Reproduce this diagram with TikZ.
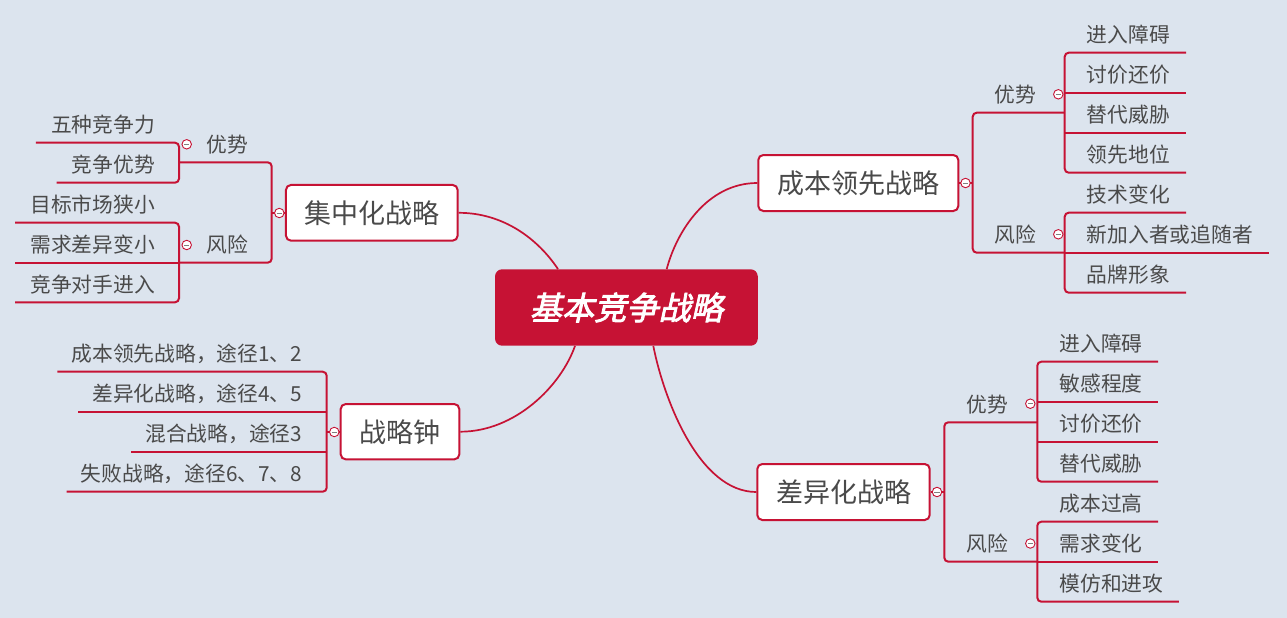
\documentclass[tikz,border=0pt]{standalone}
\usepackage{fontspec}
\setmainfont{Noto Sans CJK SC}
\newfontfamily\centralfont[FakeBold=2.5,FakeSlant=0.22]{Noto Sans CJK SC}
\definecolor{mred}{RGB}{198,18,52}
\definecolor{txt}{RGB}{74,74,74}
\definecolor{bgc}{RGB}{220,228,238}
\pgfdeclarelayer{bg}
\pgfdeclarelayer{lines}
\pgfsetlayers{bg,lines,main}
\begin{document}
\begin{tikzpicture}[x=1pt,y=-1pt,
  br/.style={draw=mred, line width=2pt},
  rc/.style={rounded corners=4pt},
  curve/.style={draw=mred, line width=1.7pt},
  mainbox/.style={draw=mred, line width=2pt, fill=white, rounded corners=5pt,
    minimum height=56pt, inner sep=0pt, text=txt, font=\fontsize{27}{30}\selectfont},
  leafbase/.style={inner sep=0pt, minimum height=36pt, text height=18.3pt, text depth=2.5pt,
    text=txt, font=\fontsize{20.75}{24}\selectfont},
  leafR/.style={leafbase, anchor=south west, execute at begin node={\kern22pt}, execute at end node={\kern16pt}},
  leafD/.style={leafbase, anchor=south west, execute at begin node={\kern22pt}, execute at end node={\kern15.5pt}},
  leafL/.style={leafbase, anchor=south east, execute at begin node={\kern15pt}, execute at end node={\kern24pt}},
  leafK/.style={leafbase, anchor=south east, execute at begin node={\kern14pt}, execute at end node={\kern24.4pt}},
  subR/.style={leafbase, anchor=south west, execute at begin node={\kern21.5pt}},
  subD/.style={leafbase, anchor=south west, execute at begin node={\kern22pt}},
  subL/.style={leafbase, anchor=south east, execute at end node={\kern23.4pt}},
  minus/.style={circle, draw=mred, line width=0.9pt, fill=white, minimum size=9.5pt, inner sep=0pt,
    path picture={\draw[line width=0.8pt, draw=gray] ([xshift=-2.6pt]path picture bounding box.center) -- ([xshift=2.6pt]path picture bounding box.center);}}
]
\begin{pgfonlayer}{bg}
  \fill[bgc] (0,0) rectangle (1287,618);
\end{pgfonlayer}
\useasboundingbox (0,0) rectangle (1287,618);

% central and main topics
\node[fill=mred, rounded corners=7pt, minimum width=262.7pt, minimum height=76.4pt, inner sep=0pt,
  text=white, font={\centralfont\fontsize{32.2}{36}\selectfont}] (central) at (626.4,307.5) {基本竞争战略};
\node[mainbox, minimum width=200pt] (cost) at (858.3,183) {成本领先战略};
\node[mainbox, minimum width=172.4pt] (diff) at (843.5,492) {差异化战略};
\node[mainbox, minimum width=171.7pt, minimum height=55.7pt] (focus) at (371.8,212.8) {集中化战略};
\node[mainbox, minimum width=118.6pt, minimum height=55.3pt] (clock) at (400,431.7) {战略钟};

% cost leadership branch
\node[subR] (cadv) at (972.7,112.7) {优势};
\node[leafR] (ca1) at (1064.7,52.7) {进入障碍};
\node[leafR] (ca2) at (1064.7,92.7) {讨价还价};
\node[leafR] (ca3) at (1064.7,132.7) {替代威胁};
\node[leafR] (ca4) at (1064.7,172.7) {领先地位};
\node[subR] (crisk) at (972.7,252.7) {风险};
\node[leafR] (cr1) at (1064.7,212.7) {技术变化};
\node[leafR] (cr2) at (1064.7,252.7) {新加入者或追随者};
\node[leafR] (cr3) at (1064.7,292.7) {品牌形象};

% differentiation branch
\node[subD] (dadv) at (944.3,422.3) {优势};
\node[leafD] (da1) at (1037.3,361.7) {进入障碍};
\node[leafD] (da2) at (1037.3,401.7) {敏感程度};
\node[leafD] (da3) at (1037.3,441.7) {讨价还价};
\node[leafD] (da4) at (1037.3,481.7) {替代威胁};
\node[subD] (drisk) at (944.3,561.7) {风险};
\node[leafD] (dr1) at (1037.3,521.7) {成本过高};
\node[leafD] (dr2) at (1037.3,561.7) {需求变化};
\node[leafD] (dr3) at (1037.3,601.7) {模仿和进攻};

% focus branch
\node[subL] (fadv) at (271.7,162.3) {优势};
\node[leafL] (fa1) at (179,142.7) {五种竞争力};
\node[leafL] (fa2) at (179,182.7) {竞争优势};
\node[subL] (frisk) at (271.7,262.7) {风险};
\node[leafL] (fr1) at (179,222.7) {目标市场狭小};
\node[leafL] (fr2) at (179,262.7) {需求差异变小};
\node[leafL] (fr3) at (179,302.3) {竞争对手进入};

% strategy clock branch
\node[leafK] (k1) at (326.7,371.7) {成本领先战略，途径1、2};
\node[leafK] (k2) at (326.7,411.7) {差异化战略，途径4、5};
\node[leafK] (k3) at (326.7,451.7) {混合战略，途径3};
\node[leafK] (k4) at (326.7,491.7) {失败战略，途径6、7、8};

\begin{pgfonlayer}{lines}
  % curves from central topic
  \draw[curve] ([xshift=40.3pt]central.north) .. controls +(10,-38) and +(-50,0) .. (cost.west);
  \draw[curve] ([xshift=-68.4pt]central.north) .. controls +(-20,-30) and +(45,0) .. (focus.east);
  \draw[curve] ([xshift=-51.4pt]central.south) .. controls +(-14,40) and +(55,0) .. (clock.east);
  \draw[curve] ([xshift=26.9pt]central.south) .. controls +(10.7,54) and +(-57,0) .. (diff.west);

  % cost
  \draw[br] (cost.east) -- (cost.east -| cadv.south west);
  \draw[br, rc] (cadv.south west -| ca1.south west) -- (cadv.south west) -- (crisk.south west) -- (crisk.south west -| cr1.south west);
  \draw[br, rc] (ca1.south east) -- (ca1.south west) -- (ca4.south west) -- (ca4.south east);
  \draw[br] (ca2.south west) -- (ca2.south east);
  \draw[br] (ca3.south west) -- (ca3.south east);
  \draw[br, rc] (cr1.south east) -- (cr1.south west) -- (cr3.south west) -- (cr3.south east);
  \draw[br] (cr2.south west) -- (cr2.south east);

  % diff
  \draw[br] (diff.east) -- (diff.east -| dadv.south west);
  \draw[br, rc] (dadv.south west -| da1.south west) -- (dadv.south west) -- (drisk.south west) -- (drisk.south west -| dr1.south west);
  \draw[br, rc] (da1.south east) -- (da1.south west) -- (da4.south west) -- (da4.south east);
  \draw[br] (da2.south west) -- (da2.south east);
  \draw[br] (da3.south west) -- (da3.south east);
  \draw[br, rc] (dr1.south east) -- (dr1.south west) -- (dr3.south west) -- (dr3.south east);
  \draw[br] (dr2.south west) -- (dr2.south east);

  % focus
  \draw[br] (focus.west) -- (focus.west -| fadv.south east);
  \draw[br, rc] (fadv.south east -| fa1.south east) -- (fadv.south east) -- (frisk.south east) -- (frisk.south east -| fr1.south east);
  \draw[br, rc] (fa1.south west) -- (fa1.south east) -- (fa2.south east) -- (fa2.south west);
  \draw[br, rc] (fr1.south west) -- (fr1.south east) -- (fr3.south east) -- (fr3.south west);
  \draw[br] (fr2.south east) -- (fr2.south west);

  % clock
  \draw[br] (clock.west) -- (clock.west -| k1.south east);
  \draw[br, rc] (k1.south west) -- (k1.south east) -- (k4.south east) -- (k4.south west);
  \draw[br] (k2.south east) -- (k2.south west);
  \draw[br] (k3.south east) -- (k3.south west);
\end{pgfonlayer}

% collapse markers
\node[minus] (m1) at (965.5,183) {};
\node[minus] (m2) at (1058.3,94.3) {};
\node[minus] (m3) at (1058.3,234.3) {};
\node[minus] (m4) at (937,492) {};
\node[minus] (m5) at (1030.3,403.7) {};
\node[minus] (m6) at (1030.3,543.5) {};
\node[minus] (m7) at (279.3,213) {};
\node[minus] (m8) at (186.7,144.3) {};
\node[minus] (m9) at (186.7,245) {};
\node[minus] (m10) at (334.3,432) {};
\end{tikzpicture}
\end{document}
